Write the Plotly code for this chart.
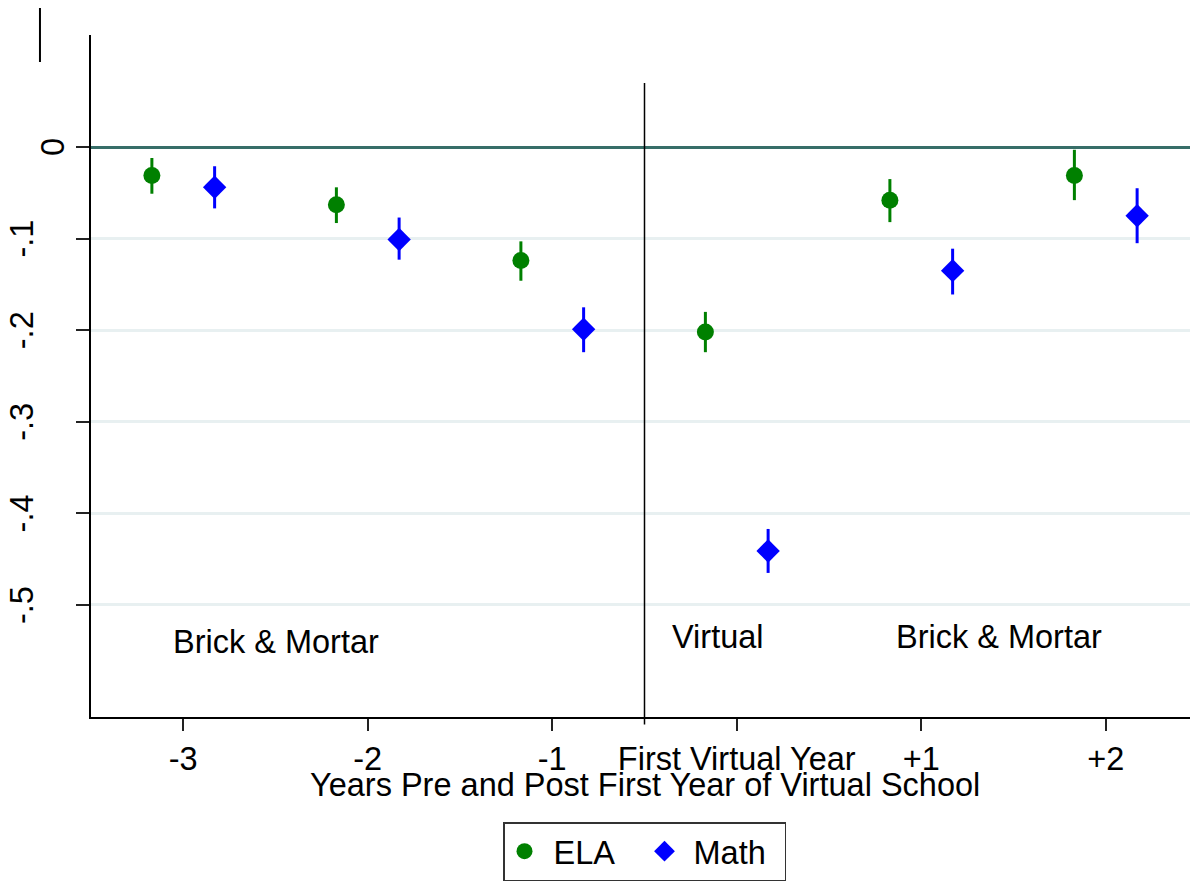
import plotly.graph_objects as go

# ---- data ----
periods = [-3, -2, -1, 0, 1, 2]
period_labels = ["-3", "-2", "-1", "First Virtual Year", "+1", "+2"]

ela_est = [-0.031, -0.063, -0.124, -0.202, -0.058, -0.031]
ela_lo = [-0.051, -0.083, -0.146, -0.224, -0.082, -0.058]
ela_hi = [-0.012, -0.044, -0.103, -0.180, -0.035, -0.003]

math_est = [-0.044, -0.101, -0.199, -0.441, -0.135, -0.075]
math_lo = [-0.067, -0.123, -0.224, -0.465, -0.161, -0.105]
math_hi = [-0.021, -0.077, -0.175, -0.417, -0.111, -0.045]

y_ticks = [0, -0.1, -0.2, -0.3, -0.4, -0.5]
y_tick_labels = ["0", "-.1", "-.2", "-.3", "-.4", "-.5"]

region_labels = ["Brick & Mortar", "Virtual", "Brick & Mortar"]
x_title = "Years Pre and Post First Year of Virtual School"

# ---- style ----
FONT = "Liberation Sans, Arial, sans-serif"
FS = 32.5
OFF = 0.17
GREEN = "#008000"
BLUE = "#0000ff"

fig = go.Figure()

fig.add_trace(go.Scatter(
    x=[p - OFF for p in periods], y=ela_est, mode="markers", name=" ELA",
    marker=dict(symbol="circle", size=17, color=GREEN),
    error_y=dict(type="data", symmetric=False,
                 array=[h - e for h, e in zip(ela_hi, ela_est)],
                 arrayminus=[e - l for e, l in zip(ela_est, ela_lo)],
                 color=GREEN, thickness=3, width=0),
))
fig.add_trace(go.Scatter(
    x=[p + OFF for p in periods], y=math_est, mode="markers", name=" Math",
    marker=dict(symbol="diamond", size=18, color=BLUE),
    error_y=dict(type="data", symmetric=False,
                 array=[h - e for h, e in zip(math_hi, math_est)],
                 arrayminus=[e - l for e, l in zip(math_est, math_lo)],
                 color=BLUE, thickness=3, width=0),
))

shapes = [
    dict(type="line", xref="x", yref="paper", x0=-0.5, x1=-0.5, y0=-0.011, y1=0.9296,
         line=dict(color="black", width=1.5), layer="above"),
    dict(type="line", xref="paper", yref="paper", x0=-0.0461, x1=-0.0461, y0=1.06, y1=0.9604,
         line=dict(color="black", width=2)),
]

annotations = []
for v, t in zip(y_ticks, y_tick_labels):
    annotations.append(dict(
        x=0, xref="paper", y=v, yref="y", text=t, showarrow=False,
        textangle=-90, xanchor="center", yanchor="middle",
        xshift=(-38 if t == "0" else -69),
        font=dict(family=FONT, size=FS, color="black")))

for lx, ly, t in zip([-2.5, -0.1, 1.424], [-0.54, -0.535, -0.535], region_labels):
    annotations.append(dict(
        x=lx, y=ly, xref="x", yref="y", text=t, showarrow=False,
        xanchor="center", yanchor="middle",
        font=dict(family=FONT, size=FS, color="black")))

annotations.append(dict(
    x=0.5, xref="paper", y=0, yref="paper", text=x_title, showarrow=False,
    xanchor="center", yanchor="middle", yshift=-68,
    font=dict(family=FONT, size=FS, color="black")))

fig.update_layout(
    width=1190, height=875,
    margin=dict(l=83, r=0, t=27, b=166),
    paper_bgcolor="white", plot_bgcolor="white",
    font=dict(family=FONT, size=FS, color="black"),
    showlegend=True,
    legend=dict(orientation="h", x=0.5, xanchor="center", y=-0.154, yanchor="top",
                bordercolor="#333333", borderwidth=1.5, bgcolor="white",
                entrywidth=95, entrywidthmode="pixels",
                font=dict(family=FONT, size=FS, color="black")),
    xaxis=dict(range=[-3.5, 2.5], tickmode="array", tickvals=periods, ticktext=period_labels,
               showgrid=False, zeroline=False, showline=True, linecolor="black", linewidth=1.5,
               ticks="outside", ticklen=12, tickwidth=1.5, tickcolor="#222222",
               tickfont=dict(family=FONT, size=FS, color="black")),
    yaxis=dict(range=[-0.6223, 0.1223], tickmode="array", tickvals=y_ticks,
               showticklabels=False,
               showgrid=True, gridcolor="#e8f0f1", gridwidth=2.5,
               zeroline=True, zerolinecolor="#376e68", zerolinewidth=3,
               showline=True, linecolor="black", linewidth=1.5,
               ticks="outside", ticklen=13, tickwidth=1.5, tickcolor="#222222"),
    shapes=shapes, annotations=annotations,
)

fig.write_html("out.html")
